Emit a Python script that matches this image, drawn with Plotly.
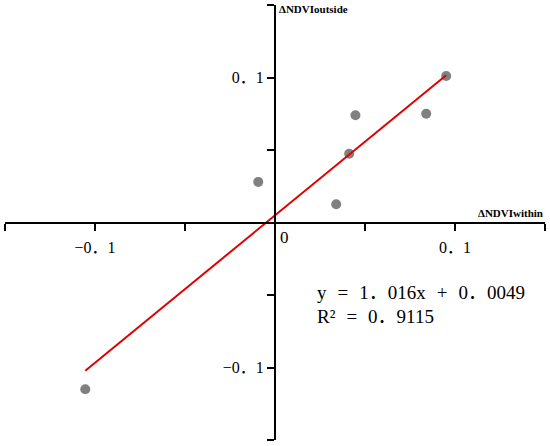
import plotly.graph_objects as go

# measured values (ΔNDVI inside vs outside)
ndvi_within = [0.0951, 0.0447, 0.0840, 0.0412, -0.0093, 0.0340, -0.1054]
ndvi_outside = [0.101, 0.074, 0.075, 0.0474, 0.028, 0.0126, -0.115]

# fitted line, as given on the chart
slope = 1.016
intercept = 0.0049
r2 = 0.9115

tick_vals = [-0.15, -0.1, -0.05, 0.05, 0.1, 0.15]
tick_text = ["", "−0．1", "", "", "0．1", ""]

serif = "Liberation Serif, Noto Sans CJK SC"

fig = go.Figure()

# points
fig.add_trace(go.Scatter(
    x=ndvi_within, y=ndvi_outside,
    mode="markers",
    marker=dict(color="#808080", size=10),
    showlegend=False
))

# regression line across the data range
x_fit = [min(ndvi_within), max(ndvi_within)]
y_fit = [slope * v + intercept for v in x_fit]
fig.add_trace(go.Scatter(
    x=x_fit, y=y_fit,
    mode="lines",
    line=dict(color="#e00000", width=2),
    showlegend=False
))

axis_common = dict(
    range=[-0.15, 0.15],
    showgrid=False,
    zeroline=False,
    showline=True,
    linecolor="black",
    linewidth=2,
    ticks="outside",
    ticklen=7,
    tickwidth=2,
    tickcolor="black",
    tickvals=tick_vals,
    ticktext=tick_text,
    tickfont=dict(family=serif, size=16, color="black"),
    anchor="free",
    position=0.5,
)

fig.update_layout(
    width=550,
    height=446,
    margin=dict(l=5, r=5, t=5, b=6),
    plot_bgcolor="white",
    paper_bgcolor="white",
    xaxis=dict(**axis_common, ticklabelstandoff=3),
    yaxis=dict(**axis_common),
)

# origin label and axis names
fig.add_annotation(x=0, y=0, xref="x", yref="y", text="0", showarrow=False,
                   xanchor="left", yanchor="top", xshift=3, yshift=-3,
                   font=dict(family=serif, size=17, color="black"))
fig.add_annotation(x=0, y=0.15, xref="x", yref="y", text="<b>ΔNDVIoutside</b>",
                   showarrow=False, xanchor="left", yanchor="middle", xshift=2, yshift=-4,
                   font=dict(family=serif, size=11, color="black"))
fig.add_annotation(x=0.15, y=0, xref="x", yref="y", text="<b>ΔNDVIwithin</b>",
                   showarrow=False, xanchor="right", yanchor="bottom", yshift=2,
                   font=dict(family=serif, size=11, color="black"))

# equation text, two rows (ideographic space gives the wide gaps)
sp = '<span style="font-size:11px">\u3000</span>'
eq_line = ("y" + sp + "=" + sp + f"{slope:.3f}".replace(".", "．") + "x" + sp + "+" + sp
           + f"{intercept:.4f}".replace(".", "．"))
r2_line = "R²" + sp + "=" + sp + f"{r2:.4f}".replace(".", "．")
fig.add_annotation(x=0.0222, y=-0.0485, xref="x", yref="y", text=eq_line,
                   showarrow=False, xanchor="left", yanchor="middle",
                   font=dict(family=serif, size=19, color="black"))
fig.add_annotation(x=0.0222, y=-0.0645, xref="x", yref="y", text=r2_line,
                   showarrow=False, xanchor="left", yanchor="middle",
                   font=dict(family=serif, size=19, color="black"))

fig.write_html("out.html", config={"displayModeBar": False},
               post_script="document.body.style.margin='0';")
